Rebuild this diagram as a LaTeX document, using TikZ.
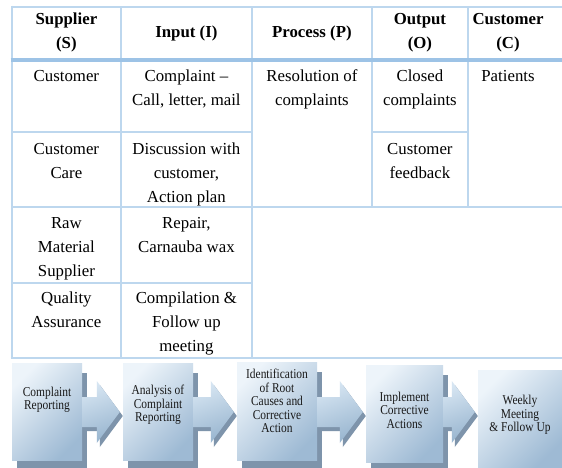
\documentclass[tikz,border=0pt]{standalone}
\usepackage{fontspec}
\setmainfont{Liberation Serif}
\newfontfamily\boxfont[FakeStretch=0.85]{Liberation Serif}
\usetikzlibrary{shadows,calc}
\definecolor{tline}{HTML}{BDD7EE}
\definecolor{hline}{HTML}{9DC3E6}
\definecolor{darkf}{HTML}{7E94AB}
\definecolor{facel}{HTML}{EDF4FA}
\definecolor{faced}{HTML}{9EBAD4}
\definecolor{arrl}{HTML}{D6E5F2}
\definecolor{arrd}{HTML}{98B5CF}
\newcommand\cellbox[1]{\parbox[t]{118pt}{\centering #1}}
\newcommand\procarrow[2]{%
  \path let \p1=(#1.east), \p2=(#2.west) in
    [fill=darkf] (\x1+2,401) -- (\x2-23,401) -- (\x2-23,385) -- (\x2,416) -- (\x2-23,447) -- (\x2-23,431) -- (\x1+2,431) -- cycle;
  \path let \p1=(#1.east), \p2=(#2.west) in
    [top color=arrl, bottom color=arrd, shading angle=20] (\x1,397) -- (\x2-26,397) -- (\x2-26,381) -- (\x2-3,412) -- (\x2-26,443) -- (\x2-26,427) -- (\x1,427) -- cycle;
}
\begin{document}
\begin{tikzpicture}[x=1pt,y=-1pt,
  grid/.style={draw=tline, line width=2pt},
  hgrid/.style={draw=hline, line width=4pt},
  cell/.style={anchor=base, inner sep=0pt, font=\fontsize{16.8}{24}\selectfont},
  headcell/.style={anchor=base, inner sep=0pt, font=\fontsize{16.8}{24}\selectfont\bfseries},
  procbox/.style={rectangle, inner sep=0pt, top color=facel, bottom color=faced, shading angle=45,
     general shadow={fill=darkf, shadow xshift=5pt, shadow yshift=-10pt}},
  proctext/.style={align=center, inner sep=0pt, text=black!90, font=\boxfont\fontsize{13.5}{13.5}\selectfont}]
\useasboundingbox (0,0) rectangle (562,468);
\fill[white] (0,0) rectangle (562,468);
% table grid
\draw[grid] (11.7,6.7) -- (562,6.7);
\draw[grid] (11.7,5.7) -- (11.7,358);
\draw[grid] (121,6.7) -- (121,358);
\draw[grid] (251.7,6.7) -- (251.7,358);
\draw[grid] (372,6.7) -- (372,207);
\draw[grid] (467.7,6.7) -- (467.7,207);
\draw[grid] (11.7,131.7) -- (251.7,131.7);
\draw[grid] (372,131.7) -- (467.7,131.7);
\draw[grid] (11.7,207) -- (562,207);
\draw[grid] (11.7,282.7) -- (251.7,282.7);
\draw[grid] (10.7,358) -- (562,358);
\draw[hgrid] (10.7,60) -- (562,60);
% header
\node[headcell] (hS) at (66.4,24.5) {\cellbox{Supplier\\(S)}};
\node[headcell] (hI) at (186.4,37.5) {\cellbox{Input (I)}};
\node[headcell] (hP) at (311.9,37.5) {\cellbox{Process (P)}};
\node[headcell] (hO) at (419.9,24.5) {\cellbox{Output\\(O)}};
\node[headcell] (hC) at (508,24.5) {\cellbox{Customer\\(C)}};
% body
\node[cell] (s1) at (66.4,82) {\cellbox{Customer}};
\node[cell] (i1) at (186.4,82) {\cellbox{Complaint –\\Call, letter, mail}};
\node[cell] (p1) at (311.9,82) {\cellbox{Resolution of\\complaints}};
\node[cell] (o1) at (419.9,82) {\cellbox{Closed\\complaints}};
\node[cell] (c1) at (508,82) {\cellbox{Patients}};
\node[cell] (s2) at (66.4,154.5) {\cellbox{Customer\\Care}};
\node[cell] (i2) at (186.4,154.5) {\cellbox{Discussion with\\customer,\\Action plan}};
\node[cell] (o2) at (419.9,154.5) {\cellbox{Customer\\feedback}};
\node[cell] (s3) at (66.4,228) {\cellbox{Raw\\Material\\Supplier}};
\node[cell] (i3) at (186.4,228) {\cellbox{Repair,\\Carnauba wax}};
\node[cell] (s4) at (66.4,303.5) {\cellbox{Quality\\Assurance}};
\node[cell] (i4) at (186.4,303.5) {\cellbox{Compilation \&\\Follow up\\meeting}};
% process flow boxes
\node[procbox, minimum width=70pt, minimum height=97pt] (b1) at (47,411.5) {};
\node[procbox, minimum width=70pt, minimum height=97pt] (b2) at (158,411.5) {};
\node[procbox, minimum width=80pt, minimum height=98pt] (b3) at (277,411) {};
\node[procbox, minimum width=77pt, minimum height=97pt] (b4) at (404.5,413.5) {};
\node[procbox, minimum width=84pt, minimum height=98pt] (b5) at (520,419) {};
% arrows
\procarrow{b1}{b2}
\procarrow{b2}{b3}
\procarrow{b3}{b4}
\procarrow{b4}{b5}
% labels
\node[proctext] (t1) at (47,400) {Complaint\\Reporting};
\node[proctext] (t2) at (158,405) {Analysis of\\Complaint\\Reporting};
\node[proctext] (t3) at (277,401) {Identification\\of Root\\Causes and\\Corrective\\Action};
\node[proctext] (t4) at (404.5,410) {Implement\\Corrective\\Actions};
\node[proctext] (t5) at (520,415) {Weekly\\Meeting\\\& Follow Up};
\end{tikzpicture}
\end{document}
